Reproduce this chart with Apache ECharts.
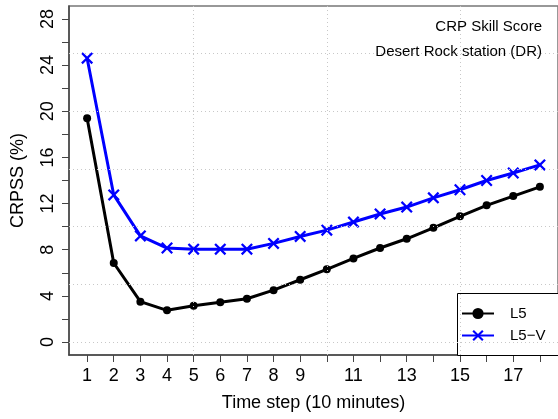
<!DOCTYPE html>
<html>
<head>
<meta charset="utf-8">
<script src="https://cdn.jsdelivr.net/npm/echarts@6/dist/echarts.min.js"></script>
<style>
html,body{margin:0;padding:0;background:#fff;}
#chart{width:558px;height:419px;}
</style>
</head>
<body>
<div id="chart"></div>
<script>
var steps = [1,2,3,4,5,6,7,8,9,10,11,12,13,14,15,16,17,18];
var l5 = [19.4, 6.85, 3.5, 2.75, 3.15, 3.45, 3.75, 4.5, 5.4, 6.3, 7.25, 8.15, 8.95, 9.9, 10.9, 11.85, 12.65, 13.45];
var l5v = [24.6, 12.75, 9.2, 8.15, 8.05, 8.05, 8.05, 8.55, 9.15, 9.7, 10.4, 11.1, 11.7, 12.5, 13.2, 14.0, 14.65, 15.35];
var xTicks = [1,2,3,4,5,6,7,8,9,10,11,12,13,14,15,16,17,18];
var xLabels = [1,2,3,4,5,6,7,8,9,11,13,15,17];
var yTicks = [0,2,4,6,8,10,12,14,16,18,20,22,24,26,28];
var yLabels = [0,4,8,12,16,20,24,28];
var xGrid = [5,10,15];
var yGrid = [0,5,10,15,20,25];
var seriesNames = ['L5', 'L5\u2212V'];
var titleLines = ['CRP Skill Score', 'Desert Rock station (DR)'];

var FONT = '"Liberation Sans", Arial, Helvetica, sans-serif';
function pairs(xs, ys){ return xs.map(function(x,i){ return [x, ys[i]]; }); }
var crossPath = 'path://M0,1.6 L1.6,0 L6,4.4 L10.4,0 L12,1.6 L7.6,6 L12,10.4 L10.4,12 L6,7.6 L1.6,12 L0,10.4 L4.4,6 Z';

var gridMarks = xGrid.map(function(v){ return {xAxis: v}; })
  .concat(yGrid.map(function(v){ return {yAxis: v}; }));

var chart = echarts.init(document.getElementById('chart'), null, {renderer:'canvas'});
chart.setOption({
  animation: false,
  backgroundColor: '#fff',
  textStyle: {fontFamily: FONT},
  title: [
    {text: titleLines[0], right: 11, top: 14, textStyle: {fontFamily: FONT, fontSize: 15, fontWeight: 'normal', color: '#000'}},
    {text: titleLines[1], right: 11, top: 39, textStyle: {fontFamily: FONT, fontSize: 15, fontWeight: 'normal', color: '#000'}}
  ],
  grid: {left: 69, top: 6, width: 490, height: 349, show: true, borderColor: '#777', borderWidth: 1.5, backgroundColor: 'transparent'},
  xAxis: {
    type: 'value', min: 0.32, max: 18.68,
    name: 'Time step (10 minutes)', nameLocation: 'middle', nameGap: 39,
    nameTextStyle: {fontFamily: FONT, fontSize: 18, color: '#000'},
    axisLine: {show: true, onZero: false, lineStyle: {color: '#444', width: 1.5}},
    axisTick: {show: true, length: 7, lineStyle: {color: '#444', width: 1}, customValues: xTicks},
    axisLabel: {show: true, fontFamily: FONT, fontSize: 18, color: '#000', margin: 12, customValues: xLabels},
    splitLine: {show: false}
  },
  yAxis: {
    type: 'value', min: -1.12, max: 29.12,
    name: 'CRPSS (%)', nameLocation: 'middle', nameGap: 42, nameRotate: 90,
    nameTextStyle: {fontFamily: FONT, fontSize: 18, color: '#000'},
    axisLine: {show: true, onZero: false, lineStyle: {color: '#444', width: 1.5}},
    axisTick: {show: true, length: 7, lineStyle: {color: '#444', width: 1}, customValues: yTicks},
    axisLabel: {show: true, rotate: 90, fontFamily: FONT, fontSize: 18, color: '#000', margin: 12, customValues: yLabels},
    splitLine: {show: false}
  },
  legend: {
    data: seriesNames, z: 8,
    orient: 'vertical', left: 457, top: 293,
    padding: [13, 4, 14, 4],
    itemGap: 7, itemWidth: 32, itemHeight: 14,
    backgroundColor: 'transparent', borderWidth: 0,
    textStyle: {fontFamily: FONT, fontSize: 15, color: '#000', padding: [0,0,0,11]}
  },
  graphic: [
    {type: 'rect', left: 457, top: 293, z: 4, silent: true,
      shape: {width: 120, height: 62},
      style: {fill: '#fff', stroke: '#000', lineWidth: 1}}
  ],
  series: [
    {
      name: 'grid', type: 'line', data: [], z: 1, silent: true,
      markLine: {silent: true, symbol: 'none', label: {show: false},
        lineStyle: {color: '#c8c8c8', type: [1,3], width: 1}, data: gridMarks}
    },
    {
      name: seriesNames[0], type: 'line', z: 3, data: pairs(steps, l5),
      color: '#000', symbol: 'circle', symbolSize: 8,
      lineStyle: {color: '#000', width: 3}, itemStyle: {color: '#000'}
    },
    {
      name: seriesNames[1], type: 'line', z: 3, data: pairs(steps, l5v),
      color: '#0000ff', symbol: crossPath, symbolSize: 12, symbolKeepAspect: true,
      lineStyle: {color: '#0000ff', width: 3}, itemStyle: {color: '#0000ff'}
    }
  ]
});
</script>
</body>
</html>
